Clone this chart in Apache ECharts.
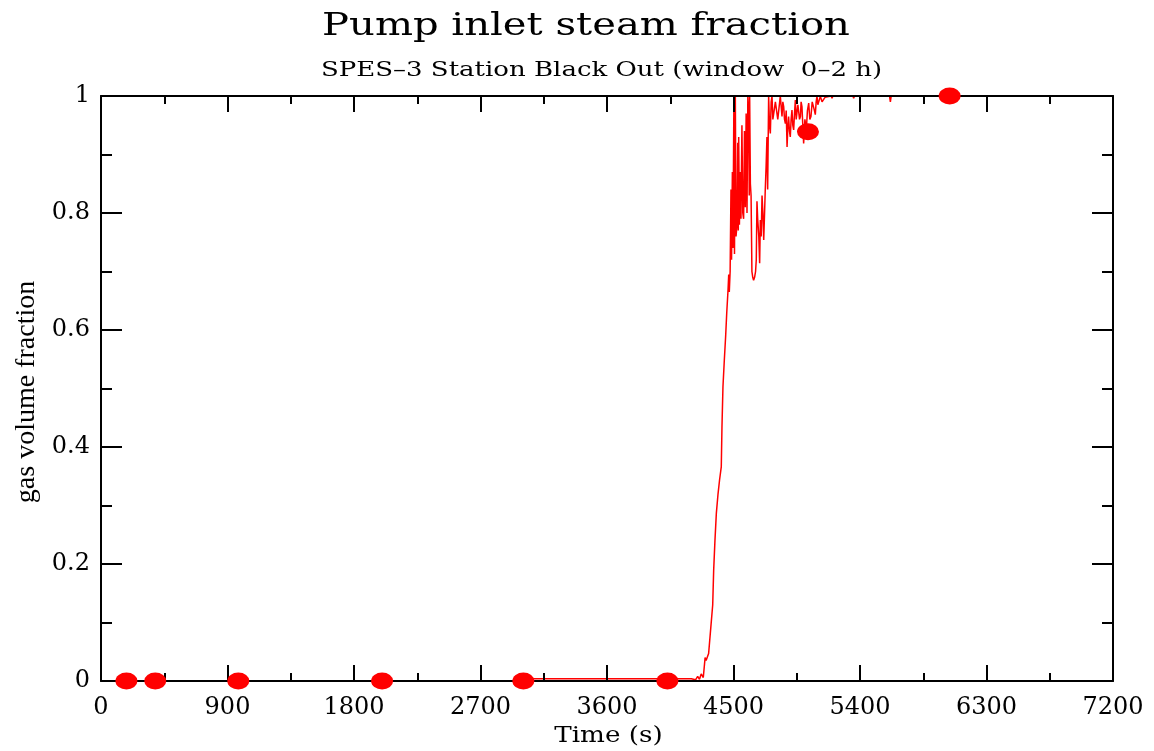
<!DOCTYPE html>
<html><head><meta charset="utf-8">
<script src="https://cdn.jsdelivr.net/npm/echarts@6/dist/echarts.min.js"></script>
<style>html,body{margin:0;padding:0;background:#fff}#c{width:1154px;height:751px}</style>
</head><body><div id="c"></div><script>
const titleText = 'Pump inlet steam fraction';
const subtitleText = 'SPES\u20133 Station Black Out (window  0\u20132 h)';
const xName = 'Time (s)';
const yName = 'gas volume fraction';
const xMin = 0, xMax = 7200, xStep = 900;
const yMin = 0, yMax = 1, yStep = 0.2;

const timeS = [2990,3600,4200,4230,4245,4258,4270,4285,4298,4305,4323,4338,4352,4359,4368,4378,4390,4401,4413,4418,4425,4435,4444,4452,4461,4466,4470,4476,4482,4486,4492,4496,4503,4507,4513,4518,4525,4530,4534,4537,4542,4548,4553,4560,4566,4572,4578,4584,4590,4596,4602,4608,4612,4615,4620,4625,4631,4637,4643,4650,4657,4662,4667,4672,4680,4686,4691,4697,4703,4709,4715,4721,4726,4732,4738,4743,4750,4756,4762,4768,4774,4780,4786,4798,4809,4815,4821,4833,4845,4851,4857,4863,4869,4875,4881,4887,4892,4898,4904,4910,4916,4922,4928,4934,4940,4946,4952,4958,4964,4970,4976,4981,4987,4993,4999,5008,5018,5026,5035,5043,5051,5060,5070,5076,5082,5088,5094,5100,5106,5112,5118,5130,5141,5152,5165,5195,5201,5207,5350,5355,5360,5610,5616,5622,7200];
const gasFraction = [0.004,0.004,0.004,0.002,0.008,0.003,0.012,0.006,0.04,0.035,0.047,0.09,0.130,0.190,0.24,0.287,0.32,0.344,0.366,0.435,0.503,0.55,0.589,0.63,0.668,0.695,0.665,0.70,0.84,0.72,0.87,0.74,1.0,0.73,1.0,0.76,0.78,0.92,0.77,0.93,0.78,0.87,0.79,0.95,0.80,0.79,0.94,0.81,0.97,0.80,1.0,0.97,0.83,1.0,0.85,0.83,0.70,0.69,0.685,0.69,0.70,0.72,0.82,0.79,0.76,0.714,0.788,0.76,0.83,0.80,0.754,0.80,0.84,0.88,0.93,0.84,1.0,0.95,0.936,0.99,1.0,0.96,0.97,0.99,0.993,0.96,0.959,1.0,0.965,0.99,0.982,0.96,0.953,0.975,0.913,0.95,0.965,0.94,0.93,0.96,0.976,0.95,0.942,0.97,0.993,0.96,0.959,0.985,0.988,0.96,0.965,0.99,0.982,0.95,0.919,0.96,0.942,0.975,0.988,0.96,0.965,0.99,0.993,0.975,0.968,0.99,1.0,0.985,0.982,0.995,0.999,0.99,0.993,0.998,1.0,1.0,0.996,1.0,1.0,0.996,1.0,1.0,0.99,1.0,1.0];
const markerTime = [181,386,977,2000,3005,4030,5030,6038];
const markerValue = [0,0,0,0,0,0,0.939,1.0];

const serif = '"DejaVu Serif", serif';
const lineData = timeS.map((t, i) => [t, gasFraction[i]]);
const markerData = markerTime.map((t, i) => [t, markerValue[i]]);

const chart = echarts.init(document.getElementById('c'), null, {renderer: 'canvas'});
const tickStyle = {color: '#000', width: 2};
function mkAxis(type, pos, extra) {
  return Object.assign({
    type: 'value', position: pos,
    axisLine: {show: true, onZero: false, lineStyle: {color: '#000', width: 2}},
    splitLine: {show: false},
    z: 3
  }, extra);
}
chart.setOption({
  animation: false,
  backgroundColor: '#fff',
  graphic: [
    {type: 'text', x: 586, y: 27, scaleX: 1.294, silent: true,
     style: {text: titleText, fontFamily: serif, fontSize: 31, fill: '#000', textAlign: 'center', textVerticalAlign: 'middle', verticalAlign: 'middle'}},
    {type: 'text', x: 601.5, y: 70.5, scaleX: 1.30, silent: true,
     style: {text: subtitleText, fontFamily: serif, fontSize: 20, fill: '#000', textAlign: 'center', textVerticalAlign: 'middle', verticalAlign: 'middle'}},
    {type: 'text', x: 608.5, y: 736.5, scaleX: 1.14, silent: true,
     style: {text: xName, fontFamily: serif, fontSize: 23, fill: '#000', textAlign: 'center', textVerticalAlign: 'middle', verticalAlign: 'middle'}},
    {type: 'text', x: 27, y: 392, rotation: Math.PI / 2, silent: true,
     style: {text: yName, fontFamily: '"Liberation Serif", serif', fontSize: 28, fill: '#000', textAlign: 'center', textVerticalAlign: 'middle', verticalAlign: 'middle'}}
  ],
  grid: {left: 101, right: 41, top: 96, bottom: 70, containLabel: false},
  xAxis: [
    mkAxis('value', 'bottom', {
      min: xMin, max: xMax, interval: xStep,
      axisTick: {show: true, inside: true, length: 16, lineStyle: tickStyle},
      minorTick: {show: true, splitNumber: 2, length: 8, lineStyle: tickStyle},
      axisLabel: {show: true, margin: 15, fontFamily: serif, fontSize: 24, color: '#000',
        formatter: v => String(v)}
    }),
    mkAxis('value', 'top', {
      min: xMin, max: xMax, interval: xStep,
      axisTick: {show: true, inside: true, length: 16, lineStyle: tickStyle},
      minorTick: {show: true, splitNumber: 2, length: 8, lineStyle: tickStyle},
      axisLabel: {show: false}
    })
  ],
  yAxis: [
    mkAxis('value', 'left', {
      min: yMin, max: yMax, interval: yStep,
      axisTick: {show: true, inside: true, length: 21, lineStyle: tickStyle},
      minorTick: {show: true, splitNumber: 2, length: 11, lineStyle: tickStyle},
      axisLabel: {show: true, margin: 11, fontFamily: serif, fontSize: 24, color: '#000',
        formatter: v => String(Math.round(v * 10) / 10)}
    }),
    mkAxis('value', 'right', {
      min: yMin, max: yMax, interval: yStep,
      axisTick: {show: true, inside: true, length: 21, lineStyle: tickStyle},
      minorTick: {show: true, splitNumber: 2, length: 11, lineStyle: tickStyle},
      axisLabel: {show: false}
    })
  ],
  series: [
    {type: 'line', data: lineData, xAxisIndex: 0, yAxisIndex: 0, showSymbol: false,
     symbol: 'none', lineStyle: {color: '#ff0000', width: 1.5}, z: 2, silent: true},
    {type: 'scatter', data: markerData, xAxisIndex: 0, yAxisIndex: 0, symbol: 'circle',
     symbolSize: [22, 17], itemStyle: {color: '#ff0000', opacity: 1}, z: 10, silent: true}
  ]
});
</script></body></html>
